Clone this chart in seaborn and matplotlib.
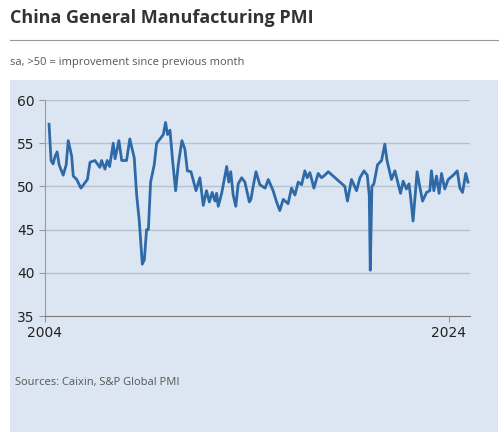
import matplotlib
matplotlib.use("Agg")
import matplotlib.pyplot as plt
import seaborn as sns
import pandas as pd
from matplotlib.patches import Rectangle

years = [2004.2,2004.3,2004.4,2004.5,2004.6,2004.7,2004.82,2004.9,2005.05,2005.15,2005.32,2005.4,2005.57,2005.78,2006.1,2006.23,
 2006.47,2006.72,2006.8,2006.97,2007.08,2007.2,2007.38,2007.47,2007.66,2007.8,2008.04,2008.2,2008.42,2008.54,2008.67,2008.82,
 2008.92,2009.03,2009.12,2009.23,2009.41,2009.53,2009.7,2009.86,2009.97,2010.07,2010.19,2010.32,2010.47,2010.6,2010.78,2010.93,
 2011.05,2011.23,2011.48,2011.67,2011.84,2012.0,2012.14,2012.28,2012.42,2012.5,2012.58,2012.75,2013.0,2013.1,2013.2,2013.32,
 2013.45,2013.57,2013.74,2013.9,2014.12,2014.2,2014.31,2014.45,2014.64,2014.9,2015.06,2015.3,2015.47,2015.63,2015.8,2016.04,
 2016.21,2016.38,2016.54,2016.71,2016.87,2016.99,2017.12,2017.32,2017.53,2017.7,2017.86,2018.03,2018.27,2018.6,2018.85,2018.98,
 2019.18,2019.43,2019.6,2019.8,2019.96,2020.06,2020.11,2020.19,2020.29,2020.47,2020.67,2020.83,2020.94,2021.16,2021.33,2021.49,
 2021.61,2021.74,2021.9,2022.03,2022.12,2022.23,2022.43,2022.56,2022.7,2022.9,2023.06,2023.14,2023.26,2023.39,2023.52,2023.64,
 2023.8,2023.97,2024.22,2024.42,2024.55,2024.68,2024.84,2024.95]
pmi = [57.2,53,52.6,53.5,54,52.5,51.8,51.3,52.5,55.3,53.5,51.2,50.8,49.8,50.8,52.8,
 53,52.2,53,52,53,52.3,55,53.2,55.3,53,53,55.5,53.3,49,46,41,
 41.5,45,45,50.5,52.5,55,55.5,56,57.4,56,56.5,53,49.5,52.5,55.3,54.3,
 51.8,51.7,49.5,51,47.8,49.5,48.2,49.3,48.3,49.2,47.7,49.2,52.3,50.5,51.7,49,
 47.7,50.3,51,50.5,48.2,48.5,50,51.7,50.2,49.8,50.8,49.5,48.2,47.2,48.5,48,
 49.8,49,50.5,50.2,51.8,51,51.6,49.8,51.5,51,51.3,51.7,51.2,50.5,50,48.3,
 50.8,49.5,51,51.8,51.3,49,40.3,50,50.3,52.5,53,54.9,53,50.8,51.8,50.3,
 49.2,50.6,49.7,50.3,48.5,46,51.7,50,48.3,49.3,49.5,51.8,49.5,51.2,49.2,51.5,
 49.7,50.8,51.3,51.8,49.8,49.3,51.5,50.5]
df = pd.DataFrame({"year": years, "pmi": pmi})

W, H = 500, 437
fig = plt.figure(figsize=(W/100, H/100), dpi=100)
fig.patch.set_facecolor("white")
fig.patches.append(Rectangle((10/W, 1-432/H), 488/W, (432-80)/H, transform=fig.transFigure,
                             facecolor="#dce6f3", edgecolor="none", zorder=-5))
fig.add_artist(plt.Line2D([10/W, 498/W], [1-40/H, 1-40/H], color="#999999", lw=0.8))
fig.text(10/W, 1-18/H, "China General Manufacturing PMI", fontsize=13, fontweight="bold",
         color="#333333", va="center", family="Open Sans")
fig.text(10/W, 1-63/H, "sa, >50 = improvement since previous month", fontsize=8,
         color="#555555", va="center", family="Open Sans")
fig.text(15/W, 1-383/H, "Sources: Caixin, S&P Global PMI", fontsize=8,
         color="#555555", va="center", family="Open Sans")

ax = fig.add_axes([45/W, 1-316/H, (470-45)/W, (316-100)/H])
ax.set_zorder(5)
ax.set_facecolor("none")
sns.lineplot(data=df, x="year", y="pmi", ax=ax, color="#2e6aa8", lw=2)
ax.set_xlim(2004, 2025.05)
ax.set_ylim(35, 60)
ax.set_yticks([35, 40, 45, 50, 55, 60])
ax.set_xticks([2004, 2024])
ax.set_xticklabels(["2004", "2024"])
for y in [40, 45, 50, 55, 60]:
    ax.axhline(y, color="#b8c2cc", lw=1, zorder=0)
for s in ["top", "right"]:
    ax.spines[s].set_visible(False)
ax.spines["left"].set_color("#999999")
ax.spines["bottom"].set_color("#777777")
ax.tick_params(axis="y", labelsize=10, color="#999999", length=4, labelcolor="#222222")
ax.tick_params(axis="x", labelsize=10, color="#999999", length=4, labelcolor="#222222")
ax.set_xlabel("")
ax.set_ylabel("")
fig.savefig("out.png", dpi=100)
